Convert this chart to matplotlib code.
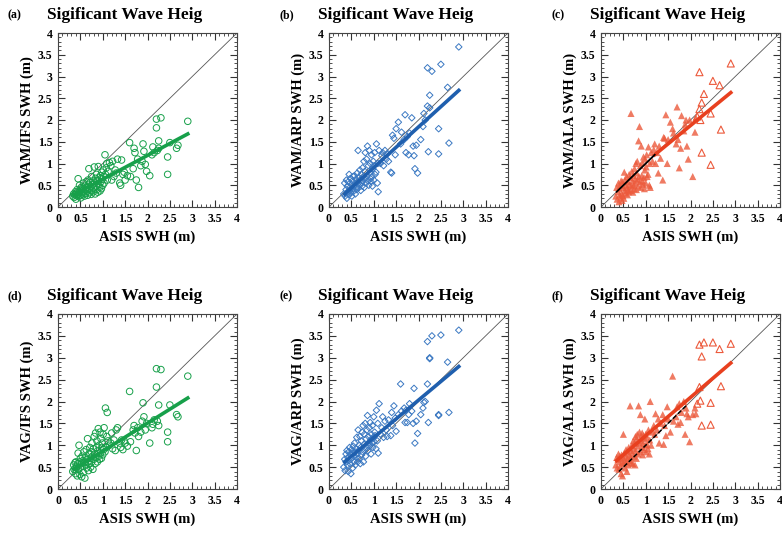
import matplotlib
matplotlib.use("Agg")
import matplotlib.pyplot as plt
from matplotlib.ticker import MultipleLocator

# ---------------- data ----------------
asis_swh = [
    0.33, 0.35, 0.36, 0.38, 0.39, 0.40, 0.41, 0.42, 0.43, 0.44,
    0.45, 0.46, 0.47, 0.48, 0.49, 0.50, 0.51, 0.52, 0.53, 0.54,
    0.55, 0.56, 0.57, 0.58, 0.59, 0.60, 0.61, 0.62, 0.63, 0.64,
    0.65, 0.66, 0.67, 0.68, 0.69, 0.70, 0.71, 0.72, 0.73, 0.74,
    0.75, 0.76, 0.77, 0.78, 0.79, 0.80, 0.81, 0.82, 0.83, 0.84,
    0.85, 0.86, 0.87, 0.88, 0.89, 0.90, 0.91, 0.92, 0.93, 0.94,
    0.95, 0.96, 0.97, 0.98, 0.99, 1.00, 1.01, 1.02, 1.03, 1.05,
    1.06, 1.08, 1.09, 1.10, 1.12,
    1.15, 1.18, 1.20, 1.22, 1.25, 1.28, 1.30, 1.33, 1.38, 1.40,
    1.42, 1.45, 1.48, 1.50, 1.55, 1.60, 1.62, 1.68, 1.70, 1.72,
    1.75, 1.78, 1.80, 1.85, 1.88, 1.90, 1.92, 1.95, 1.98, 2.05,
    2.10, 2.12, 2.15, 2.20, 2.20, 2.22, 2.25, 2.25, 2.30, 2.45,
    2.45, 2.50, 2.65, 2.68, 2.90,
]

wam_ifs = [
    0.25, 0.30, 0.22, 0.28, 0.35, 0.18, 0.32, 0.26, 0.40, 0.29,
    0.65, 0.24, 0.33, 0.50, 0.27, 0.38, 0.21, 0.45, 0.30, 0.36,
    0.42, 0.28, 0.55, 0.34, 0.25, 0.48, 0.39, 0.31, 0.58, 0.44,
    0.36, 0.27, 0.62, 0.52, 0.88, 0.40, 0.33, 0.57, 0.46, 0.29,
    0.70, 0.38, 0.51, 0.60, 0.35, 0.44, 0.92, 0.55, 0.30, 0.66,
    0.48, 0.75, 0.40, 0.59, 0.34, 0.93, 0.52, 0.68, 0.45, 0.37,
    0.72, 0.58, 0.42, 0.80, 0.64, 0.50, 0.85, 0.70, 0.55, 1.20,
    0.75, 0.90, 1.00, 0.62, 0.82,
    1.02, 0.95, 0.62, 1.05, 0.70, 0.85, 0.78, 1.10, 0.55, 0.50,
    1.08, 0.75, 0.80, 0.62, 0.72, 1.48, 0.70, 0.88, 1.35, 1.25,
    0.62, 1.10, 0.45, 0.95, 1.05, 1.45, 1.28, 0.98, 0.82, 0.72,
    1.20, 1.38, 1.25, 2.02, 1.82, 1.30, 1.52, 1.35, 2.05, 1.15,
    0.75, 1.48, 1.35, 1.42, 1.97,
]

wam_arp = [
    0.30, 0.55, 0.25, 0.40, 0.62, 0.20, 0.48, 0.35, 0.58, 0.28,
    0.75, 0.38, 0.45, 0.66, 0.32, 0.52, 0.25, 0.60, 0.42, 0.70,
    0.36, 0.48, 0.72, 0.55, 0.30, 0.64, 0.46, 0.40, 0.78, 0.58,
    1.30, 0.44, 0.68, 0.52, 0.85, 0.62, 0.38, 0.75, 0.56, 0.48,
    0.90, 0.60, 0.70, 1.05, 0.45, 0.82, 1.25, 0.66, 0.55, 1.10,
    0.72, 1.40, 0.60, 0.95, 0.50, 1.30, 0.78, 1.00, 0.65, 0.58,
    1.20, 0.70, 0.48, 0.88, 1.05, 0.62, 0.95, 1.25, 0.75, 0.80,
    1.45, 0.55, 1.00, 0.35, 1.30,
    1.00, 1.18, 1.25, 0.95, 1.30, 1.10, 1.22, 1.05, 0.80, 0.78,
    1.65, 1.58, 1.20, 1.80, 1.95, 1.45, 1.72, 1.55, 2.12, 1.25,
    1.62, 1.20, 1.70, 2.05, 1.40, 1.18, 0.88, 1.42, 0.78, 1.55,
    1.85, 2.15, 2.00, 2.32, 3.20, 1.27, 2.57, 2.28, 3.12, 1.80,
    1.22, 3.28, 2.75, 1.47, 3.68,
]

wam_ala = [
    0.25, 0.45, 0.18, 0.35, 0.55, 0.12, 0.42, 0.28, 0.50, 0.22,
    0.60, 0.30, 0.15, 0.58, 0.26, 0.45, 0.20, 0.80, 0.38, 0.62,
    0.32, 0.50, 0.70, 0.44, 0.28, 0.58, 0.40, 0.35, 0.75, 0.52,
    0.68, 0.38, 2.15, 0.48, 0.82, 0.60, 0.34, 0.72, 0.50, 0.42,
    0.88, 0.55, 0.65, 1.00, 0.40, 0.78, 1.05, 0.62, 0.48, 1.52,
    0.70, 1.85, 0.58, 0.95, 0.45, 1.40, 0.72, 1.02, 0.60, 0.52,
    1.15, 0.68, 0.42, 0.85, 1.10, 0.55, 0.92, 1.20, 0.70, 0.75,
    1.38, 0.50, 1.00, 0.45, 1.25,
    1.05, 1.32, 1.45, 1.00, 1.25, 0.78, 1.40, 1.12, 0.62, 1.60,
    1.58, 2.12, 1.00, 1.55, 1.95, 1.80, 1.70, 1.45, 2.30, 1.55,
    0.90, 1.35, 2.10, 1.75, 1.90, 2.00, 1.40, 1.10, 2.00, 0.70,
    1.72, 2.05, 2.08, 2.25, 3.10, 2.00, 2.40, 1.25, 2.60, 2.15,
    0.97, 2.90, 2.80, 1.78, 3.30,
]

vag_ifs = [
    0.40, 0.55, 0.45, 0.60, 0.35, 0.62, 0.48, 0.52, 0.30, 0.58,
    0.82, 0.45, 1.00, 0.62, 0.33, 0.70, 0.50, 0.58, 0.28, 0.75,
    0.52, 0.65, 0.38, 0.85, 0.60, 0.25, 0.72, 0.55, 0.90, 0.48,
    0.68, 1.15, 0.62, 0.42, 0.80, 0.58, 0.95, 0.70, 0.50, 0.85,
    0.62, 1.05, 0.75, 0.45, 0.92, 0.68, 1.20, 0.80, 0.58, 1.28,
    0.72, 0.95, 1.10, 0.62, 0.88, 1.38, 0.75, 1.00, 0.68, 1.30,
    0.82, 1.15, 0.70, 0.95, 1.05, 0.78, 1.25, 0.90, 1.40, 0.85,
    1.85, 0.95, 1.20, 1.75, 1.10,
    1.00, 1.05, 1.28, 0.92, 1.12, 0.88, 1.35, 1.40, 1.05, 0.95,
    1.12, 0.90, 1.10, 1.05, 0.98, 2.23, 1.08, 1.35, 1.45, 1.28,
    0.88, 1.40, 1.20, 1.30, 1.55, 1.97, 1.65, 1.35, 1.50, 1.05,
    1.40, 1.48, 1.58, 2.75, 2.33, 1.55, 1.92, 1.45, 2.73, 1.30,
    1.08, 1.92, 1.70, 1.65, 2.58,
]

vag_arp = [
    0.50, 0.68, 0.42, 0.80, 0.62, 0.88, 0.55, 0.72, 0.40, 0.85,
    0.65, 0.95, 0.58, 0.78, 0.35, 0.90, 0.70, 0.82, 0.48, 0.98,
    0.75, 0.62, 1.05, 0.85, 0.55, 0.92, 0.72, 1.18, 0.80, 0.62,
    1.35, 0.88, 0.70, 1.00, 1.20, 0.58, 0.95, 1.10, 0.78, 1.30,
    0.85, 1.45, 0.62, 1.02, 1.25, 0.90, 1.50, 0.75, 1.15, 0.95,
    1.35, 1.68, 0.88, 1.20, 1.05, 1.40, 0.98, 1.52, 1.12, 0.80,
    1.25, 1.05, 1.45, 0.95, 1.18, 1.65, 1.08, 1.30, 1.22, 0.92,
    1.80, 1.10, 1.50, 0.82, 1.95,
    1.25, 1.40, 1.65, 1.18, 1.55, 1.35, 1.20, 1.58, 1.22, 1.75,
    1.45, 1.90, 1.62, 1.32, 1.70, 2.40, 1.78, 1.85, 1.52, 1.80,
    1.52, 1.70, 1.95, 1.78, 1.50, 2.30, 1.05, 1.55, 1.27, 1.70,
    1.85, 1.98, 2.00, 2.40, 3.37, 1.52, 2.98, 3.00, 3.50, 1.68,
    1.70, 3.52, 2.90, 1.75, 3.63,
]

vag_ala = [
    0.55, 0.72, 0.48, 0.68, 0.80, 0.45, 0.62, 0.75, 0.52, 0.70,
    0.35, 0.78, 0.60, 0.30, 0.72, 1.25, 0.58, 0.82, 0.65, 0.48,
    0.75, 0.90, 0.62, 0.40, 0.85, 0.70, 0.55, 0.95, 0.78, 0.65,
    1.90, 0.88, 0.72, 0.60, 1.00, 0.82, 0.58, 1.10, 0.92, 0.75,
    1.05, 0.55, 1.20, 0.88, 0.70, 1.15, 1.25, 0.98, 0.80, 1.90,
    1.05, 1.30, 0.85, 1.70, 1.10, 1.20, 0.95, 1.28, 0.78, 1.05,
    1.22, 0.90, 1.15, 1.60, 1.00, 1.25, 0.85, 1.18, 1.02, 0.92,
    1.35, 0.80, 1.12, 2.00, 1.00,
    1.30, 1.45, 1.25, 1.72, 1.35, 1.60, 1.05, 1.50, 1.70, 1.02,
    1.45, 1.22, 1.88, 1.60, 1.30, 2.58, 1.55, 1.65, 1.88, 1.48,
    1.95, 1.52, 1.75, 2.00, 1.25, 1.85, 1.72, 1.65, 1.08, 1.70,
    1.85, 1.72, 1.95, 2.33, 3.30, 2.02, 3.03, 1.45, 3.35, 1.97,
    1.47, 3.35, 3.20, 2.35, 3.32,
]

# fitted regression lines (end points)
fit_x = [0.35, 2.90]
fit_wam_ifs = [0.28, 1.68]
fit_wam_arp = [0.30, 2.68]
fit_wam_ala = [1.20, 2.63]
fit_wam_ala_x = [1.20, 2.90]
fit_vag_ifs = [0.45, 2.08]
fit_vag_arp = [0.62, 2.80]
fit_vag_ala = [0.65, 2.88]
low_fit_wam_ala_x = [0.35, 1.20]
low_fit_vag_ala_x = [0.40, 1.90]

panel_labels = ["(a)", "(b)", "(c)", "(d)", "(e)", "(f)"]
y_labels = ["WAM/IFS SWH (m)", "WAM/ARP SWH (m)", "WAM/ALA SWH (m)",
            "VAG/IFS SWH (m)", "VAG/ARP SWH (m)", "VAG/ALA SWH (m)"]
title_text = "Sigificant Wave Heig"
x_label = "ASIS SWH (m)"
tick_vals = [0, 0.5, 1, 1.5, 2, 2.5, 3, 3.5, 4]
tick_text = ["0", "0.5", "1", "1.5", "2", "2.5", "3", "3.5", "4"]

# ---------------- styling ----------------
GREEN = "#17a04a"
BLUE = "#3a78c2"
RED = "#ec5a3c"

plt.rcParams["font.family"] = ["Liberation Serif", "DejaVu Serif"]
plt.rcParams["font.weight"] = "bold"

W, H = 782, 535
fig = plt.figure(figsize=(W / 100, H / 100), dpi=100)


def px_axes(left, top, right, bottom):
    return fig.add_axes([left / W, 1 - bottom / H, (right - left) / W, (bottom - top) / H])


boxes = [
    (58, 33, 237, 207), (329, 33, 508, 207), (601, 33, 780, 207),
    (58, 314, 237, 489), (329, 314, 508, 489), (601, 314, 780, 489),
]

series = [wam_ifs, wam_arp, wam_ala, vag_ifs, vag_arp, vag_ala]
colors = [GREEN, BLUE, RED, GREEN, BLUE, RED]
markers = ["o", "D", "^", "o", "D", "^"]
sizes = [22, 11, 26, 22, 11, 26]

for i, (box, ys, c, m) in enumerate(zip(boxes, series, colors, markers)):
    ax = px_axes(*box)
    ax.set_xlim(0, 4)
    ax.set_ylim(0, 4)
    ax.plot([0, 4], [0, 4], color="#555555", lw=0.6, zorder=1)

    if m == "^":
        fx = [xv for xv in asis_swh if xv < 2.15]
        fy = [yv for xv, yv in zip(asis_swh, ys) if xv < 2.15]
        ox = [xv for xv in asis_swh if xv >= 2.15]
        oy = [yv for xv, yv in zip(asis_swh, ys) if xv >= 2.15]
        ax.scatter(fx, fy, s=sizes[i], marker=m, color=c, alpha=0.8,
                   edgecolors="none", zorder=2)
        ax.scatter(ox, oy, s=sizes[i], marker=m, facecolors="none",
                   edgecolors=c, linewidths=0.8, zorder=2)
    else:
        ax.scatter(asis_swh, ys, s=sizes[i], marker=m, facecolors="none",
                   edgecolors=c, linewidths=0.7, zorder=2)

    # regression lines
    if i == 0:
        ax.plot(fit_x, fit_wam_ifs, color=GREEN, lw=2.6, zorder=3)
    elif i == 1:
        ax.plot(fit_x, fit_wam_arp, color="#1f5fae", lw=2.6, zorder=3)
    elif i == 2:
        ax.plot(fit_wam_ala_x, fit_wam_ala, color="#e8401f", lw=2.6, zorder=3)
        ax.plot(low_fit_wam_ala_x, low_fit_wam_ala_x, color="black", lw=1.3, zorder=3)
    elif i == 3:
        ax.plot(fit_x, fit_vag_ifs, color=GREEN, lw=2.6, zorder=3)
    elif i == 4:
        ax.plot(fit_x, fit_vag_arp, color="#1f5fae", lw=2.6, zorder=3)
    else:
        ax.plot(fit_x, fit_vag_ala, color="#e8401f", lw=2.6, zorder=3)
        ax.plot(low_fit_vag_ala_x, low_fit_vag_ala_x, color="black", lw=1.1,
                ls=(0, (3, 1.5)), zorder=3)

    ax.set_xticks(tick_vals)
    ax.set_xticklabels(tick_text)
    ax.set_yticks(tick_vals)
    ax.set_yticklabels(tick_text)
    ax.xaxis.set_minor_locator(MultipleLocator(0.1))
    ax.yaxis.set_minor_locator(MultipleLocator(0.1))
    ax.tick_params(which="both", direction="in", top=True, right=True,
                   colors="#333333", labelcolor="black", labelsize=8.5, pad=4)
    ax.tick_params(which="major", length=5, width=0.8)
    ax.tick_params(which="minor", length=2.5, width=0.6)
    for sp in ax.spines.values():
        sp.set_color("#444444")
        sp.set_linewidth(0.8)
    for lab in ax.get_xticklabels() + ax.get_yticklabels():
        lab.set_fontweight("bold")

    ax.set_xlabel(x_label, fontsize=10.5, fontweight="bold", labelpad=4)
    ax.set_ylabel(y_labels[i], fontsize=10.5, fontweight="bold", labelpad=3)

    left, top = box[0], box[1]
    fig.text((left - 11) / W, 1 - (top - 18) / H, title_text, fontsize=12.5,
             fontweight="bold", ha="left", va="center")
    fig.text((left - 50) / W, 1 - (top - 18) / H, panel_labels[i], fontsize=8.5,
             fontweight="bold", ha="left", va="center")

fig.savefig("out.png", dpi=100)
